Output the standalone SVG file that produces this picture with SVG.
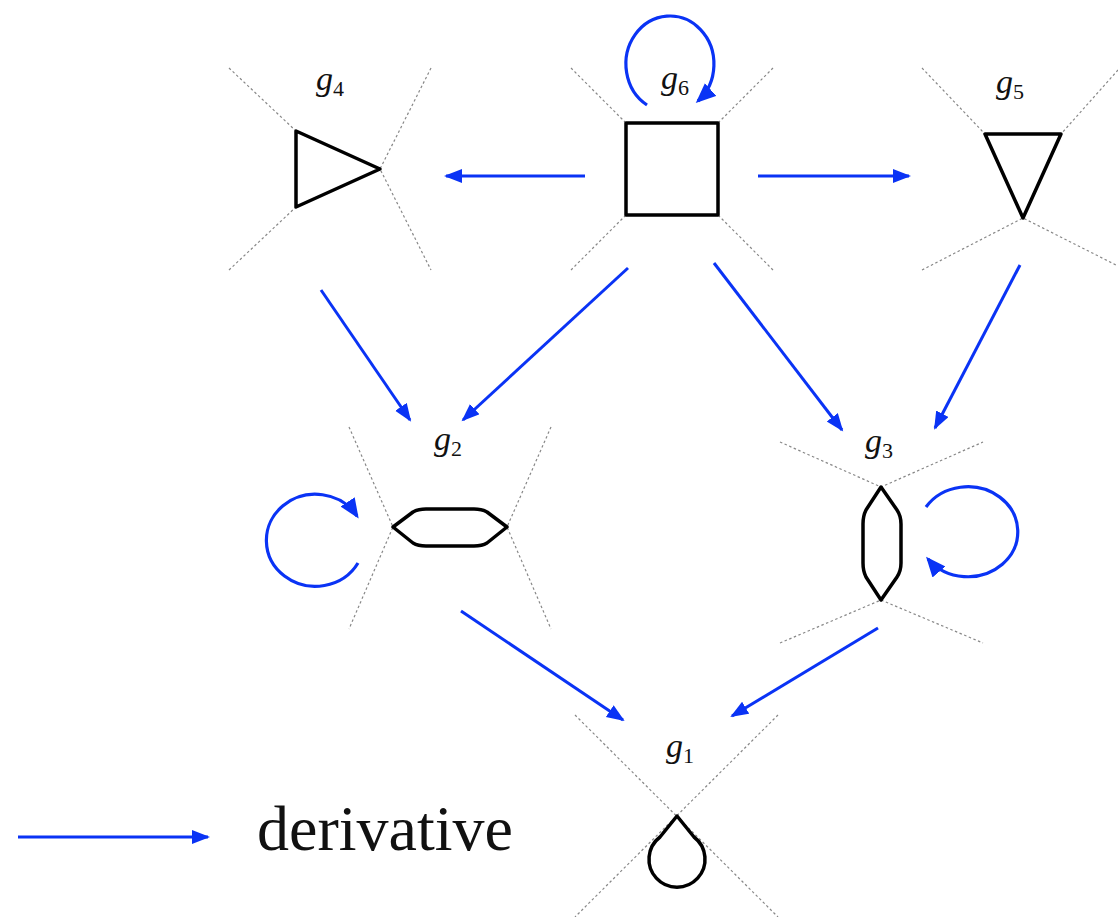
<svg xmlns="http://www.w3.org/2000/svg" width="1118" height="917" viewBox="0 0 1118 917">
<style>
.dot{stroke:#888;stroke-width:1.2;stroke-dasharray:2.5 2.5;fill:none}
.shape{stroke:#000;stroke-width:3.5;fill:none;stroke-linejoin:round}
.edge{stroke:#0a33f5;stroke-width:3;fill:none;marker-end:url(#ah)}
.loop{stroke:#0a33f5;stroke-width:3.2;fill:none;marker-end:url(#ahb)}
.lbl{font-family:"Liberation Serif",serif;font-size:34px;fill:#111}
.sub{font-size:22px;font-style:normal}
</style>
<defs>
<marker id="ah" markerUnits="userSpaceOnUse" markerWidth="20" markerHeight="16" refX="16" refY="7" orient="auto">
<path d="M0,0 L18,7 L0,14 z" fill="#0a33f5"/>
</marker>
<marker id="ahb" markerUnits="userSpaceOnUse" markerWidth="22" markerHeight="20" refX="17" refY="8.5" orient="auto">
<path d="M0,0 L20,8.5 L0,17 z" fill="#0a33f5"/>
</marker>
</defs>
<g id="g4">
<path class="dot" d="M229,68 L296,131 M229,270 L296,207 M431,68 L380,169 L431,270"/>
<path class="shape" d="M296,131 L380,169 L296,207 Z"/>
<text class="lbl" x="316" y="90"><tspan font-style="italic">g</tspan><tspan class="sub" dy="6">4</tspan></text>
</g>
<g id="g6">
<path class="dot" d="M571,68 L626,123 M773,68 L718,123 M571,270 L626,215 M773,270 L718,215"/>
<rect class="shape" x="626" y="123" width="92" height="92" stroke-linejoin="miter"/>
<text class="lbl" x="661" y="89"><tspan font-style="italic">g</tspan><tspan class="sub" dy="6">6</tspan></text>
</g>
<g id="g5">
<path class="dot" d="M922,68 L985,134 M1118,70 L1061,134 M922,270 L1023,218 L1118,266"/>
<path class="shape" d="M985,134 L1061,134 L1023,218 Z" stroke-linejoin="miter"/>
<text class="lbl" x="996" y="93"><tspan font-style="italic">g</tspan><tspan class="sub" dy="6">5</tspan></text>
</g>
<g id="g2">
<path class="dot" d="M349,427 L393,527 L349,629 M551,427 L507,527 L551,629"/>
<path class="shape" d="M393,527 L413,512 Q418,509 426,509 L474,509 Q482,509 487,512 L507,527 L487,543 Q482,546 474,546 L426,546 Q418,546 413,543 Z"/>
<text class="lbl" x="434" y="450"><tspan font-style="italic">g</tspan><tspan class="sub" dy="6">2</tspan></text>
</g>
<g id="g3">
<path class="dot" d="M780,442 L881,487 L983,442 M780,643 L881,600 L983,643"/>
<path class="shape" d="M881,487 L897,510 Q901,516 901,524 L901,563 Q901,571 897,577 L881,600 L866,577 Q863,571 863,563 L863,524 Q863,516 866,510 Z"/>
<text class="lbl" x="865" y="452"><tspan font-style="italic">g</tspan><tspan class="sub" dy="6">3</tspan></text>
</g>
<g id="g1">
<path class="dot" d="M575,715 L778,917 M778,715 L575,917"/>
<path class="shape" d="M677,816 L694,837 A28,28 0 1 1 660,837 Z"/>
<text class="lbl" x="666" y="757"><tspan font-style="italic">g</tspan><tspan class="sub" dy="6">1</tspan></text>
</g>
<g id="connectors">
<path class="edge" d="M585,176 L446,176"/>
<path class="edge" d="M758,176 L909,176"/>
<path class="edge" d="M321,290 L410,420"/>
<path class="edge" d="M628,268 L463,420"/>
<path class="edge" d="M714,263 L842,430"/>
<path class="edge" d="M1020,265 L935,428"/>
<path class="edge" d="M461,611 L623,720"/>
<path class="edge" d="M878,628 L732,716"/>
<path class="loop" d="M647,105 A44,48 0 1 1 698,101"/>
<path class="loop" d="M358,563 A49,46 0 1 1 357,516"/>
<path class="loop" d="M926,507 A50,45 0 1 1 928,559"/>
<path class="edge" d="M18,837 L208,837"/>
</g>
<g id="legend">
<text x="257" y="850" font-family="'Liberation Serif',serif" font-size="64" fill="#111">derivative</text>
</g>
</svg>
